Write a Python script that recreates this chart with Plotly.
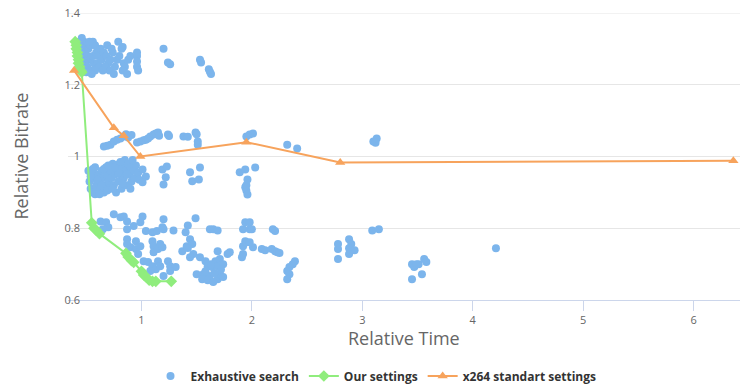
import plotly.graph_objects as go

# ---- Data ----
# Exhaustive search: (relative time, relative bitrate)
top_band = [
    (0.44,1.32),(0.46,1.33),(0.48,1.32),(0.50,1.31),(0.47,1.30),(0.45,1.29),(0.49,1.29),(0.52,1.30),
    (0.54,1.31),(0.56,1.32),(0.58,1.31),(0.51,1.28),(0.53,1.27),(0.47,1.27),(0.49,1.26),(0.46,1.25),
    (0.51,1.25),(0.54,1.24),(0.57,1.26),(0.56,1.28),(0.59,1.29),(0.61,1.28),(0.63,1.30),(0.60,1.26),
    (0.62,1.25),(0.58,1.24),(0.50,1.235),(0.55,1.23),(0.64,1.27),(0.66,1.29),(0.68,1.28),(0.70,1.26),
    (0.67,1.25),(0.72,1.27),(0.74,1.29),(0.71,1.24),(0.76,1.25),(0.75,1.23),(0.78,1.27),(0.79,1.32),
    (0.82,1.30),(0.83,1.305),(0.80,1.28),(0.84,1.26),(0.85,1.25),(0.83,1.24),(0.87,1.23),(0.88,1.27),
    (0.90,1.28),(0.96,1.29),(0.96,1.28),(0.96,1.265),(0.96,1.25),(0.97,1.24),(0.45,1.27),(0.43,1.25),
    (0.53,1.32),(0.65,1.24),(0.69,1.31),(0.73,1.30),
    (1.20,1.30),(1.24,1.262),(1.26,1.257),(1.53,1.27),(1.54,1.262),(1.61,1.243),(1.62,1.236),(1.63,1.23),
]
upper_mid_band = [
    (0.66,1.028),(0.69,1.03),(0.72,1.033),(0.75,1.042),(0.78,1.047),(0.81,1.05),(0.84,1.056),(0.86,1.062),
    (0.88,1.053),(0.91,1.06),(0.96,1.039),(0.99,1.042),(1.02,1.045),(1.04,1.047),(1.06,1.05),(1.08,1.056),
    (1.11,1.061),(1.13,1.064),(1.15,1.067),(1.16,1.058),(1.24,1.061),(1.25,1.057),(1.38,1.056),(1.42,1.055),
    (1.49,1.067),(1.50,1.062),(1.51,1.042),(1.51,1.033),(1.95,1.056),(1.98,1.061),(2.01,1.064),(2.32,1.033),
    (2.41,1.022),(3.10,1.042),(3.12,1.038),(3.13,1.05),
]
lower_mid_band = [
    (0.52,0.96),(0.53,0.93),(0.54,0.91),(0.55,0.95),(0.56,0.90),(0.57,0.94),(0.58,0.97),(0.59,0.92),
    (0.60,0.905),(0.61,0.95),(0.62,0.93),(0.63,0.91),(0.64,0.96),(0.65,0.94),(0.66,0.90),(0.67,0.92),
    (0.68,0.97),(0.69,0.95),(0.70,0.93),(0.71,0.91),(0.72,0.96),(0.73,0.94),(0.74,0.98),(0.75,0.92),
    (0.76,0.95),(0.77,0.90),(0.78,0.97),(0.79,0.93),(0.80,0.98),(0.81,0.95),(0.82,0.91),(0.83,0.97),
    (0.84,0.94),(0.85,0.99),(0.86,0.96),(0.87,0.92),(0.88,0.98),(0.89,0.95),(0.90,0.97),(0.91,0.93),
    (0.92,0.99),(0.93,0.96),(0.94,0.94),(0.95,0.975),(0.97,0.955),(0.98,0.935),(0.56,0.965),(0.60,0.935),
    (0.64,0.92),(0.69,0.905),(0.74,0.91),(0.79,0.955),(0.83,0.925),(0.87,0.95),(0.90,0.91),(0.54,0.945),
    (0.58,0.895),(0.62,0.895),(0.66,0.965),(0.70,0.975),(0.76,0.97),(0.81,0.985),
    (1.01,0.964),(1.04,0.944),(1.01,0.928),(1.19,0.964),(1.23,0.972),(1.22,0.942),(1.20,0.922),(1.44,0.956),
    (1.46,0.931),(1.53,0.969),(1.52,0.936),(1.89,0.956),(1.94,0.964),(2.03,0.969),(1.96,0.936),(1.94,0.914),
    (1.95,0.905),(1.96,0.894),(1.95,0.92),
]
low_band = [
    (0.63,0.819),(0.68,0.817),(0.75,0.839),(0.81,0.831),(0.84,0.833),(0.87,0.819),(0.93,0.806),(1.01,0.833),
    (0.99,0.817),(0.87,0.797),(0.70,0.803),(0.65,0.797),
    (1.04,0.792),(1.10,0.789),(1.14,0.792),(1.19,0.803),(1.20,0.825),(1.20,0.797),(1.29,0.794),(1.40,0.789),
    (1.42,0.808),(1.49,0.828),(1.62,0.797),(1.65,0.797),(1.69,0.794),(1.92,0.797),(1.94,0.817),(1.98,0.817),
    (1.98,0.797),
    (0.87,0.769),(0.87,0.756),(0.95,0.764),(0.90,0.747),(0.95,0.742),(0.99,0.750),(0.97,0.728),(1.10,0.764),
    (1.11,0.750),(1.17,0.756),(1.11,0.733),(1.15,0.742),(1.19,0.747),(1.37,0.736),(1.41,0.750),(1.44,0.769),
    (1.46,0.756),(1.47,0.728),(1.44,0.719),(1.42,0.745),
    (1.02,0.708),(1.06,0.706),(1.10,0.694),(1.13,0.686),(1.15,0.708),(1.24,0.708),(1.26,0.694),(1.31,0.692),
    (1.26,0.681),(1.20,0.667),(1.17,0.694),(1.08,0.681),
    (1.53,0.719),(1.58,0.708),(1.60,0.694),(1.64,0.692),(1.67,0.708),(1.69,0.694),(1.71,0.714),(1.74,0.700),
    (1.56,0.672),(1.62,0.667),(1.69,0.658),(1.71,0.672),(1.74,0.664),(1.50,0.672),(1.55,0.658),(1.78,0.728),
    (1.69,0.736),(1.80,0.733),(1.92,0.750),(1.94,0.764),(1.95,0.761),(2.01,0.747),(1.92,0.728),(1.91,0.719),
    (1.58,0.68),(1.63,0.70),(1.66,0.675),(1.60,0.655),(1.65,0.65),(1.72,0.685),
    (2.00,0.797),(1.98,0.761),(2.09,0.742),(2.12,0.739),(2.18,0.742),(2.21,0.736),(2.23,0.733),(2.25,0.731),
    (2.19,0.797),(2.21,0.792),(2.39,0.708),(2.37,0.700),(2.34,0.692),(2.32,0.681),(2.34,0.672),(2.32,0.658),
    (2.78,0.756),(2.78,0.742),(2.78,0.714),(2.88,0.769),(2.90,0.756),(2.88,0.744),(2.93,0.739),(2.88,0.728),
    (3.09,0.794),(3.15,0.797),(3.45,0.700),(3.47,0.692),(3.51,0.700),(3.56,0.714),(3.58,0.706),(3.54,0.672),
    (3.45,0.658),(3.49,0.70),(4.21,0.744),
]

our_x = [0.40,0.41,0.41,0.42,0.42,0.43,0.43,0.44,0.45,0.46,0.55,0.57,0.59,0.62,0.86,0.88,0.91,0.93,
         1.00,1.02,1.04,1.07,1.10,1.13,1.27]
our_y = [1.32,1.31,1.30,1.29,1.28,1.27,1.26,1.25,1.24,1.235,0.815,0.80,0.795,0.785,0.73,0.72,0.71,0.705,
         0.68,0.67,0.665,0.655,0.652,0.652,0.652]

x264_x = [0.39,0.75,0.84,0.99,1.95,2.80,6.36]
x264_y = [1.24,1.08,1.058,1.0,1.04,0.983,0.988]

x_ticks = [1,2,3,4,5,6]
y_ticks = [0.6,0.8,1.0,1.2,1.4]
y_tick_text = ["0.6", "0.8", "1", "1.2", "1.4"]

exh = top_band + upper_mid_band + lower_mid_band + low_band
exh_x = [p[0] for p in exh]
exh_y = [p[1] for p in exh]

FONT = "Lucida Grande, Open Sans, DejaVu Sans, sans-serif"

W, H = 752, 389

fig = go.Figure()
fig.add_trace(go.Scatter(
    x=exh_x, y=exh_y, mode="markers", name="Exhaustive search",
    marker=dict(color="#7cb5ec", size=8, line=dict(width=0)),
))
fig.add_trace(go.Scatter(
    x=our_x, y=our_y, mode="lines+markers", name="Our settings",
    line=dict(color="#90ed7d", width=2),
    marker=dict(symbol="diamond", size=9, color="#90ed7d", line=dict(width=0)),
))
fig.add_trace(go.Scatter(
    x=x264_x, y=x264_y, mode="lines+markers", name="x264 standart settings",
    line=dict(color="#f7a35c", width=2),
    marker=dict(symbol="triangle-up", size=9, color="#f7a35c", line=dict(width=0)),
))

fig.update_layout(
    width=W, height=H,
    margin=dict(l=68, r=12, t=13, b=89, autoexpand=False),
    paper_bgcolor="white", plot_bgcolor="white",
    font=dict(family=FONT, color="#666666", size=11),
    showlegend=True,
    legend=dict(orientation="h", x=376 / W, xanchor="center", xref="container",
                y=1 - 376 / H, yanchor="middle", yref="container",
                font=dict(size=12, color="#333333", family=FONT, weight="bold"),
                itemwidth=30, tracegroupgap=0),
    xaxis=dict(
        range=[0.335, 6.42], tickvals=x_ticks, ticktext=[str(v) for v in x_ticks],
        showgrid=False, zeroline=False, showline=True, linecolor="#ccd6eb", linewidth=1,
        ticks="outside", tickcolor="#ccd6eb", ticklen=10, tickwidth=1,
        tickfont=dict(size=11, color="#666666"), automargin=False, ticklabeloverflow="allow",
    ),
    yaxis=dict(
        range=[0.6, 1.4], tickvals=y_ticks, ticktext=y_tick_text,
        showgrid=True, gridcolor="#e6e6e6", gridwidth=1, zeroline=False, showline=False,
        ticks="", tickfont=dict(size=11, color="#666666"), automargin=False,
        ticklabeloverflow="allow", ticklabelstandoff=-13,
    ),
    shapes=[
        dict(type="line", xref="paper", x0=0, x1=1, yref="y", y0=y_ticks[-1], y1=y_ticks[-1],
             line=dict(color="#e6e6e6", width=1), layer="below"),
    ],
    annotations=[
        dict(text="Relative Time", xref="paper", yref="paper", x=0.5, y=0,
             yshift=-38, showarrow=False, xanchor="center", yanchor="middle",
             font=dict(size=18, color="#666666", family=FONT)),
        dict(text="Relative Bitrate", xref="paper", yref="paper", x=0, y=0.5,
             xshift=-48, textangle=-90, showarrow=False, xanchor="center", yanchor="middle",
             font=dict(size=18, color="#666666", family=FONT)),
    ],
)

# remove the browser's default 8px body margin so the figure fills the window
fig.write_html("out.html", config={"displayModeBar": False},
               post_script="document.body.style.margin='0';")
